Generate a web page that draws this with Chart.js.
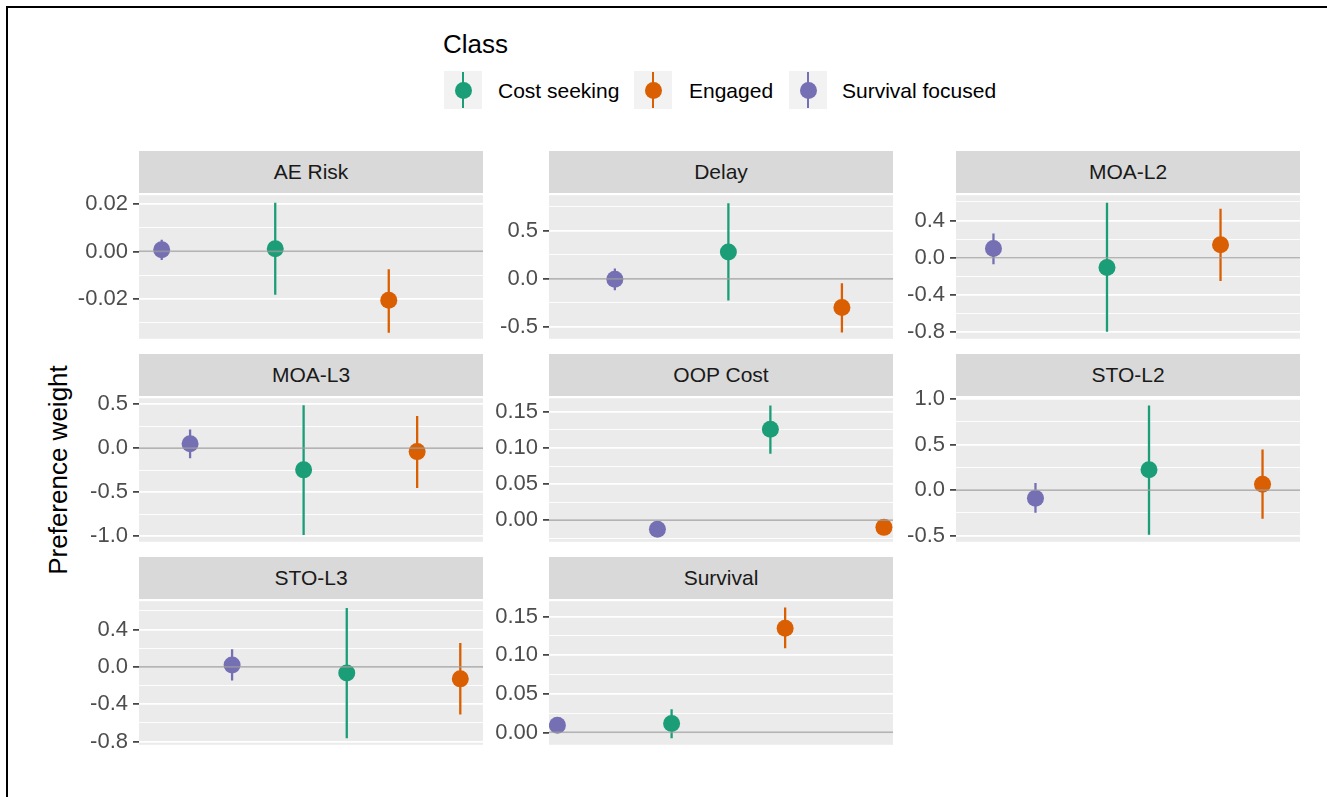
<!DOCTYPE html>
<html><head><meta charset="utf-8">
<script src="https://cdn.jsdelivr.net/npm/chart.js@4.4.1/dist/chart.umd.min.js"></script>
<style>
html,body{margin:0;padding:0;background:#fff;width:1327px;height:797px;overflow:hidden;font-family:"Liberation Sans",Arial,sans-serif;}
#frame{position:absolute;left:6px;top:6px;width:1340px;height:800px;border-left:2px solid #000;border-top:2px solid #000;box-sizing:border-box;}
.strip{position:absolute;background:#D9D9D9;color:#1A1A1A;font-size:21px;text-align:center;white-space:nowrap;}
.cv{position:absolute;}
.ltitle{position:absolute;left:443px;top:31px;font-size:26px;line-height:26px;color:#000;}
.lkey{position:absolute;top:71px;width:38px;height:38px;background:#F2F2F2;}
.lkey .bar{position:absolute;left:18px;top:1px;width:2.2px;height:36px;}
.lkey .dot{position:absolute;left:10.5px;top:10.5px;width:17px;height:17px;border-radius:50%;}
.ltext{position:absolute;top:80px;font-size:21px;line-height:21px;color:#000;white-space:nowrap;}
#ytitle{position:absolute;left:58px;top:470px;font-size:26px;line-height:26px;color:#000;white-space:nowrap;transform:translate(-50%,-50%) rotate(-90deg);}
</style>
</head><body>
<div id="frame"></div>
<div class="ltitle">Class</div>
<div id="legend"></div>
<div id="ytitle">Preference weight</div>
<div id="panels"></div>
<script>
// ---------------- data ----------------
const panelNames = ["AE Risk","Delay","MOA-L2","MOA-L3","OOP Cost","STO-L2","STO-L3","Survival"];
const classNames = ["Cost seeking","Engaged","Survival focused"];
const classColors = ["#1B9E77","#D95F02","#7570B3"];

// Cost seeking
const costX   = [1.20, 1.58, 1.33, 1.45, 1.95, 1.70, 1.83, 1.08];
const costEst = [0.0012, 0.28, -0.104, -0.247, 0.126, 0.225, -0.066, 0.0115];
const costLo  = [-0.0184, -0.225, -0.794, -0.985, 0.092, -0.49, -0.766, -0.0076];
const costHi  = [0.0207, 0.79, 0.59, 0.487, 0.159, 0.93, 0.63, 0.030];
// Engaged
const engX    = [2.20, 2.58, 2.33, 2.45, 2.95, 2.70, 2.83, 2.08];
const engEst  = [-0.0207, -0.30, 0.14, -0.04, -0.010, 0.064, -0.129, 0.135];
const engLo   = [-0.0345, -0.56, -0.25, -0.453, -0.012, -0.314, -0.51, 0.109];
const engHi   = [-0.0076, -0.045, 0.525, 0.365, -0.008, 0.446, 0.255, 0.162];
// Survival focused
const survX   = [0.20, 0.58, 0.33, 0.45, 0.955, 0.70, 0.82, 0.074];
const survEst = [0.0007, -0.005, 0.098, 0.048, -0.0126, -0.089, 0.021, 0.0093];
const survLo  = [-0.0036, -0.12, -0.07, -0.114, -0.015, -0.25, -0.147, 0.007];
const survHi  = [0.005, 0.108, 0.26, 0.21, -0.010, 0.078, 0.19, 0.0115];

// axis ranges and ticks per panel
const yMin = [-0.0371, -0.626, -0.87, -1.063, -0.030, -0.568, -0.836, -0.016];
const yMax = [0.0239, 0.873, 0.671, 0.566, 0.169, 1.01, 0.704, 0.170];
const tickValues = [
  [-0.02, 0, 0.02],
  [-0.5, 0, 0.5],
  [-0.8, -0.4, 0, 0.4],
  [-1.0, -0.5, 0, 0.5],
  [0, 0.05, 0.10, 0.15],
  [-0.5, 0, 0.5, 1.0],
  [-0.8, -0.4, 0, 0.4],
  [0, 0.05, 0.10, 0.15]
];
const tickLabels = [
  ["-0.02","0.00","0.02"],
  ["-0.5","0.0","0.5"],
  ["-0.8","-0.4","0.0","0.4"],
  ["-1.0","-0.5","0.0","0.5"],
  ["0.00","0.05","0.10","0.15"],
  ["-0.5","0.0","0.5","1.0"],
  ["-0.8","-0.4","0.0","0.4"],
  ["0.00","0.05","0.10","0.15"]
];
const X_MAX = 3.03;

// ---------------- layout ----------------
const colLeft = [139, 549, 956];
const rowTop  = [151, 354, 557];
const STRIP_H = 42, PLOT_W = 344, PLOT_H = 148, AXW = 72, PAD = 16;
const FONT = '"Liberation Sans", Arial, sans-serif';

Chart.defaults.font.family = FONT;

const series = [
  {x: costX, est: costEst, lo: costLo, hi: costHi},
  {x: engX,  est: engEst,  lo: engLo,  hi: engHi},
  {x: survX, est: survEst, lo: survLo, hi: survHi}
];

// legend
const legend = document.getElementById('legend');
const keyLeft = [444, 634, 789], textLeft = [498, 689, 842];
classNames.forEach((n, c) => {
  const k = document.createElement('div'); k.className = 'lkey'; k.style.left = keyLeft[c] + 'px';
  k.innerHTML = '<div class="bar" style="background:' + classColors[c] + '"></div><div class="dot" style="background:' + classColors[c] + '"></div>';
  legend.appendChild(k);
  const t = document.createElement('div'); t.className = 'ltext'; t.style.left = textLeft[c] + 'px'; t.textContent = n;
  legend.appendChild(t);
});

const bgPlugin = {
  id: 'panelBg',
  beforeDraw(chart) {
    const a = chart.chartArea, ctx = chart.ctx;
    ctx.save(); ctx.fillStyle = '#EBEBEB';
    ctx.fillRect(a.left, a.top, a.right - a.left, a.bottom - a.top);
    ctx.restore();
  }
};

const host = document.getElementById('panels');
panelNames.forEach((name, p) => {
  const col = p % 3, row = Math.floor(p / 3);
  const left = colLeft[col], stripTop = rowTop[row], plotTop = stripTop + STRIP_H;

  const s = document.createElement('div'); s.className = 'strip';
  s.style.left = left + 'px'; s.style.top = stripTop + 'px';
  s.style.width = PLOT_W + 'px'; s.style.height = STRIP_H + 'px'; s.style.lineHeight = STRIP_H + 'px';
  s.textContent = name; host.appendChild(s);

  const cv = document.createElement('canvas'); cv.className = 'cv';
  cv.width = AXW + PLOT_W; cv.height = PLOT_H + 2 * PAD;
  cv.style.left = (left - AXW) + 'px'; cv.style.top = (plotTop - PAD) + 'px';
  cv.style.width = cv.width + 'px'; cv.style.height = cv.height + 'px';
  host.appendChild(cv);

  const majors = tickValues[p];
  const step = majors[1] - majors[0];
  const all = [];
  for (let v = majors[0] - step / 2; v <= majors[majors.length - 1] + step / 2 + 1e-9; v += step / 2) {
    if (v >= yMin[p] - 1e-9 && v <= yMax[p] + 1e-9) all.push(+v.toFixed(6));
  }
  const majorIdx = v => majors.findIndex(m => Math.abs(m - v) < 1e-7);

  const datasets = [];
  series.forEach((sr, c) => {
    datasets.push({
      type: 'line', data: [{x: sr.x[p], y: sr.lo[p]}, {x: sr.x[p], y: sr.hi[p]}],
      borderColor: classColors[c], borderWidth: 2.3, pointRadius: 0, showLine: true,
      order: 2, clip: 0
    });
    datasets.push({
      type: 'scatter', data: [{x: sr.x[p], y: sr.est[p]}],
      backgroundColor: classColors[c], borderColor: classColors[c], borderWidth: 0,
      pointRadius: 8.5, pointHoverRadius: 8.5, order: 1, clip: 0
    });
  });
  datasets.push({
    type: 'line', data: [{x: 0, y: 0}, {x: X_MAX, y: 0}],
    borderColor: 'rgba(155,155,155,0.75)', borderWidth: 1.7, pointRadius: 0, showLine: true,
    order: 0, clip: 0
  });

  new Chart(cv, {
    type: 'scatter',
    data: {datasets},
    options: {
      responsive: false, animation: false, devicePixelRatio: 1, events: [],
      layout: {autoPadding: false, padding: {top: PAD, bottom: PAD, left: 0, right: 0}},
      plugins: {legend: {display: false}, tooltip: {enabled: false}},
      scales: {
        x: {type: 'linear', display: false, min: 0, max: X_MAX},
        y: {
          type: 'linear', min: yMin[p], max: yMax[p],
          afterBuildTicks: sc => { sc.ticks = all.map(v => ({value: v})); },
          afterFit: sc => { sc.width = AXW; },
          border: {display: false},
          grid: {
            color: '#FFFFFF',
            lineWidth: ctx => (ctx.tick && majorIdx(ctx.tick.value) >= 0) ? 1.8 : 0.9,
            drawTicks: true, tickLength: 6,
            tickColor: ctx => (ctx.tick && majorIdx(ctx.tick.value) >= 0) ? '#333333' : 'rgba(0,0,0,0)',
            tickWidth: 1.6
          },
          ticks: {
            autoSkip: false, maxRotation: 0, padding: 5, color: '#4D4D4D',
            font: {size: 22, family: FONT},
            callback: v => { const i = majorIdx(v); return i >= 0 ? tickLabels[p][i] : ''; }
          }
        }
      }
    },
    plugins: [bgPlugin]
  });
});
</script>
</body></html>
